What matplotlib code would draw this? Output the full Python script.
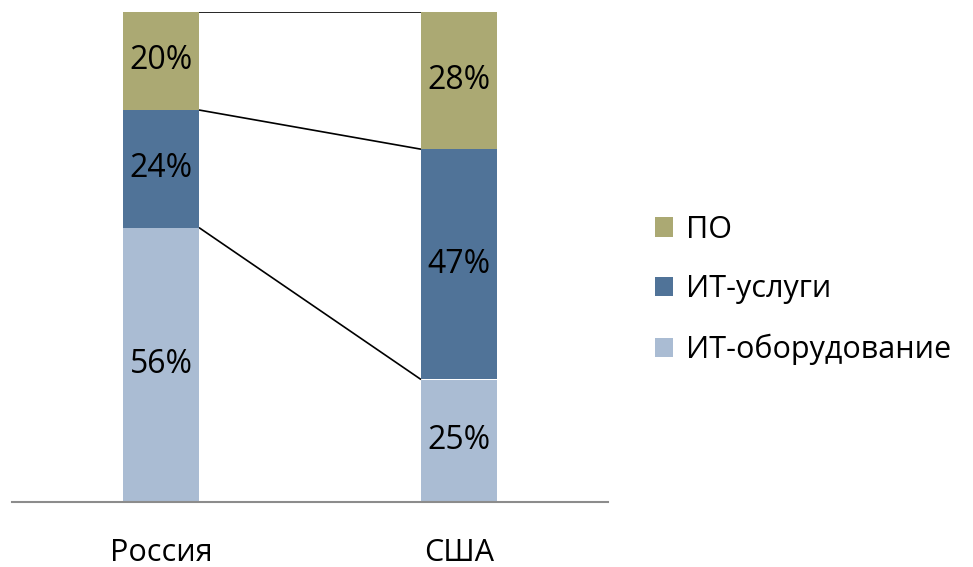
import numpy as np
import matplotlib.pyplot as plt
from matplotlib.patches import Patch

plt.rcParams['font.family'] = ['Open Sans', 'DejaVu Sans']

countries = ["Россия", "США"]
series = ["ИТ-оборудование", "ИТ-услуги", "ПО"]
values = {
    "ИТ-оборудование": [56, 25],
    "ИТ-услуги": [24, 47],
    "ПО": [20, 28],
}
colors = {"ИТ-оборудование": "#AABCD3", "ИТ-услуги": "#507398", "ПО": "#ABA973"}

fig = plt.figure(figsize=(9.73, 5.67), dpi=100)
ax = fig.add_axes([12/973, 1 - 502/567, (608 - 12)/973, 490/567])

x = np.arange(len(countries))
w = 0.255
bottom = np.zeros(len(countries))
for s in series:
    v = np.array(values[s], dtype=float)
    ax.bar(x, v, w, bottom=bottom, color=colors[s], edgecolor='none', zorder=2)
    for xi, vi, bi in zip(x, v, bottom):
        ax.text(xi, bi + vi/2, f"{int(vi)}%", ha='center', va='center',
                fontsize=23, color='black', zorder=3)
    bottom = bottom + v
    # series lines between bars
    ax.plot([x[0] + w/2, x[1] - w/2], [bottom[0], bottom[1]], color='black',
            lw=1.2, zorder=1, solid_capstyle='butt')

ax.set_xlim(-0.5, 1.5)
ax.set_ylim(0, 100)
ax.set_yticks([])
ax.set_xticks(x)
ax.set_xticklabels(countries, fontsize=22)
ax.tick_params(axis='x', length=0, pad=26)
for sp in ['top', 'right', 'left']:
    ax.spines[sp].set_visible(False)
ax.spines['bottom'].set_color('#8C8C8C')
ax.spines['bottom'].set_linewidth(1.5)

handles = [Patch(facecolor=colors[s], edgecolor='none', label=s) for s in series[::-1]]
fig.legend(handles=handles, loc='center left', bbox_to_anchor=(655/973, 1 - 290/567),
           frameon=False, fontsize=22, handlelength=0.6, handleheight=0.6,
           handletextpad=0.4, labelspacing=0.97, borderpad=0, borderaxespad=0)

fig.savefig("out.png", dpi=100)
